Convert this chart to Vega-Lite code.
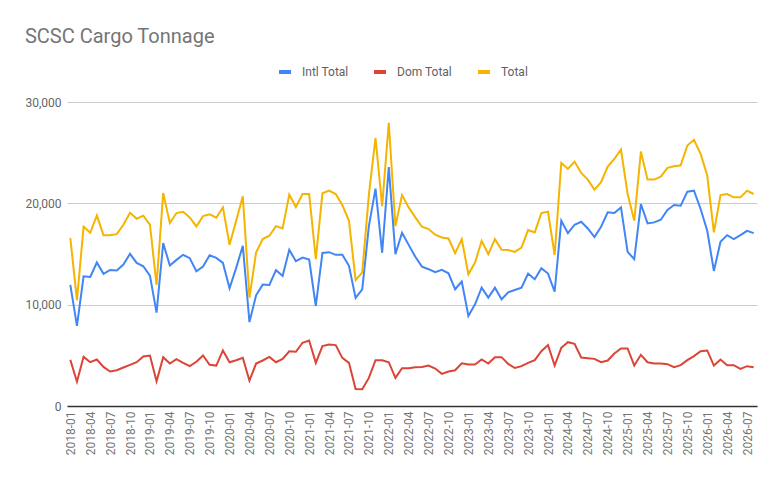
{
  "$schema": "https://vega.github.io/schema/vega-lite/v6.json",
  "width": 690,
  "height": 304,
  "autosize": {"type": "none"},
  "padding": {"left": 67, "top": 102, "right": 23, "bottom": 76},
  "title": {
    "text": "SCSC Cargo Tonnage",
    "anchor": "start",
    "frame": "bounds",
    "font": "Roboto",
    "fontSize": 20,
    "fontWeight": "normal",
    "color": "#757575",
    "offset": 17
  },
  "data": {
    "values": [
      {"month": "2018-01", "Intl Total": 11950, "Dom Total": 4550, "Total": 16570},
      {"month": "2018-02", "Intl Total": 7900, "Dom Total": 2400, "Total": 10450},
      {"month": "2018-03", "Intl Total": 12800, "Dom Total": 4850, "Total": 17700},
      {"month": "2018-04", "Intl Total": 12740, "Dom Total": 4320, "Total": 17090},
      {"month": "2018-05", "Intl Total": 14160, "Dom Total": 4590, "Total": 18800},
      {"month": "2018-06", "Intl Total": 13040, "Dom Total": 3860, "Total": 16860},
      {"month": "2018-07", "Intl Total": 13430, "Dom Total": 3400, "Total": 16860},
      {"month": "2018-08", "Intl Total": 13370, "Dom Total": 3530, "Total": 16960},
      {"month": "2018-09", "Intl Total": 13960, "Dom Total": 3800, "Total": 17890},
      {"month": "2018-10", "Intl Total": 15020, "Dom Total": 4060, "Total": 19070},
      {"month": "2018-11", "Intl Total": 14120, "Dom Total": 4320, "Total": 18480},
      {"month": "2018-12", "Intl Total": 13790, "Dom Total": 4880, "Total": 18780},
      {"month": "2019-01", "Intl Total": 12870, "Dom Total": 4980, "Total": 17890},
      {"month": "2019-02", "Intl Total": 9210, "Dom Total": 2440, "Total": 11950},
      {"month": "2019-03", "Intl Total": 16070, "Dom Total": 4820, "Total": 21020},
      {"month": "2019-04", "Intl Total": 13860, "Dom Total": 4190, "Total": 18050},
      {"month": "2019-05", "Intl Total": 14420, "Dom Total": 4620, "Total": 19040},
      {"month": "2019-06", "Intl Total": 14920, "Dom Total": 4260, "Total": 19170},
      {"month": "2019-07", "Intl Total": 14590, "Dom Total": 3930, "Total": 18610},
      {"month": "2019-08", "Intl Total": 13300, "Dom Total": 4360, "Total": 17720},
      {"month": "2019-09", "Intl Total": 13760, "Dom Total": 4980, "Total": 18740},
      {"month": "2019-10", "Intl Total": 14880, "Dom Total": 4060, "Total": 18910},
      {"month": "2019-11", "Intl Total": 14620, "Dom Total": 3990, "Total": 18580},
      {"month": "2019-12", "Intl Total": 14120, "Dom Total": 5480, "Total": 19600},
      {"month": "2020-01", "Intl Total": 11620, "Dom Total": 4320, "Total": 15910},
      {"month": "2020-02", "Intl Total": 13630, "Dom Total": 4520, "Total": 18280},
      {"month": "2020-03", "Intl Total": 15810, "Dom Total": 4750, "Total": 20690},
      {"month": "2020-04", "Intl Total": 8280, "Dom Total": 2500, "Total": 10700},
      {"month": "2020-05", "Intl Total": 10920, "Dom Total": 4190, "Total": 15150},
      {"month": "2020-06", "Intl Total": 11980, "Dom Total": 4490, "Total": 16470},
      {"month": "2020-07", "Intl Total": 11950, "Dom Total": 4850, "Total": 16800},
      {"month": "2020-08", "Intl Total": 13400, "Dom Total": 4320, "Total": 17750},
      {"month": "2020-09", "Intl Total": 12840, "Dom Total": 4650, "Total": 17520},
      {"month": "2020-10", "Intl Total": 15410, "Dom Total": 5400, "Total": 20860},
      {"month": "2020-11", "Intl Total": 14290, "Dom Total": 5350, "Total": 19640},
      {"month": "2020-12", "Intl Total": 14650, "Dom Total": 6240, "Total": 20920},
      {"month": "2021-01", "Intl Total": 14450, "Dom Total": 6470, "Total": 20920},
      {"month": "2021-02", "Intl Total": 9870, "Dom Total": 4260, "Total": 14490},
      {"month": "2021-03", "Intl Total": 15110, "Dom Total": 5910, "Total": 20990},
      {"month": "2021-04", "Intl Total": 15180, "Dom Total": 6070, "Total": 21250},
      {"month": "2021-05", "Intl Total": 14920, "Dom Total": 6010, "Total": 20920},
      {"month": "2021-06", "Intl Total": 14920, "Dom Total": 4750, "Total": 19830},
      {"month": "2021-07", "Intl Total": 13830, "Dom Total": 4260, "Total": 18280},
      {"month": "2021-08", "Intl Total": 10660, "Dom Total": 1680, "Total": 12420},
      {"month": "2021-09", "Intl Total": 11500, "Dom Total": 1650, "Total": 13180},
      {"month": "2021-10", "Intl Total": 17750, "Dom Total": 2770, "Total": 20850},
      {"month": "2021-11", "Intl Total": 21450, "Dom Total": 4520, "Total": 26450},
      {"month": "2021-12", "Intl Total": 15120, "Dom Total": 4520, "Total": 19720},
      {"month": "2022-01", "Intl Total": 23580, "Dom Total": 4320, "Total": 27950},
      {"month": "2022-02", "Intl Total": 14990, "Dom Total": 2770, "Total": 17750},
      {"month": "2022-03", "Intl Total": 17100, "Dom Total": 3730, "Total": 20810},
      {"month": "2022-04", "Intl Total": 15900, "Dom Total": 3730, "Total": 19600},
      {"month": "2022-05", "Intl Total": 14720, "Dom Total": 3830, "Total": 18610},
      {"month": "2022-06", "Intl Total": 13760, "Dom Total": 3860, "Total": 17690},
      {"month": "2022-07", "Intl Total": 13500, "Dom Total": 3990, "Total": 17460},
      {"month": "2022-08", "Intl Total": 13200, "Dom Total": 3700, "Total": 16900},
      {"month": "2022-09", "Intl Total": 13430, "Dom Total": 3170, "Total": 16630},
      {"month": "2022-10", "Intl Total": 13100, "Dom Total": 3400, "Total": 16530},
      {"month": "2022-11", "Intl Total": 11520, "Dom Total": 3530, "Total": 15080},
      {"month": "2022-12", "Intl Total": 12280, "Dom Total": 4220, "Total": 16470},
      {"month": "2023-01", "Intl Total": 8880, "Dom Total": 4090, "Total": 13000},
      {"month": "2023-02", "Intl Total": 10030, "Dom Total": 4090, "Total": 14160},
      {"month": "2023-03", "Intl Total": 11680, "Dom Total": 4590, "Total": 16300},
      {"month": "2023-04", "Intl Total": 10690, "Dom Total": 4190, "Total": 14980},
      {"month": "2023-05", "Intl Total": 11680, "Dom Total": 4820, "Total": 16470},
      {"month": "2023-06", "Intl Total": 10530, "Dom Total": 4820, "Total": 15410},
      {"month": "2023-07", "Intl Total": 11220, "Dom Total": 4160, "Total": 15400},
      {"month": "2023-08", "Intl Total": 11450, "Dom Total": 3750, "Total": 15210},
      {"month": "2023-09", "Intl Total": 11680, "Dom Total": 3930, "Total": 15640},
      {"month": "2023-10", "Intl Total": 13070, "Dom Total": 4260, "Total": 17360},
      {"month": "2023-11", "Intl Total": 12510, "Dom Total": 4520, "Total": 17130},
      {"month": "2023-12", "Intl Total": 13600, "Dom Total": 5410, "Total": 19040},
      {"month": "2024-01", "Intl Total": 13070, "Dom Total": 6010, "Total": 19170},
      {"month": "2024-02", "Intl Total": 11290, "Dom Total": 3990, "Total": 14900},
      {"month": "2024-03", "Intl Total": 18280, "Dom Total": 5740, "Total": 23990},
      {"month": "2024-04", "Intl Total": 17060, "Dom Total": 6300, "Total": 23400},
      {"month": "2024-05", "Intl Total": 17890, "Dom Total": 6140, "Total": 24120},
      {"month": "2024-06", "Intl Total": 18180, "Dom Total": 4790, "Total": 23000},
      {"month": "2024-07", "Intl Total": 17520, "Dom Total": 4720, "Total": 22340},
      {"month": "2024-08", "Intl Total": 16670, "Dom Total": 4650, "Total": 21350},
      {"month": "2024-09", "Intl Total": 17690, "Dom Total": 4320, "Total": 22080},
      {"month": "2024-10", "Intl Total": 19110, "Dom Total": 4490, "Total": 23630},
      {"month": "2024-11", "Intl Total": 19040, "Dom Total": 5180, "Total": 24390},
      {"month": "2024-12", "Intl Total": 19600, "Dom Total": 5680, "Total": 25310},
      {"month": "2025-01", "Intl Total": 15210, "Dom Total": 5680, "Total": 20920},
      {"month": "2025-02", "Intl Total": 14490, "Dom Total": 3990, "Total": 18280},
      {"month": "2025-03", "Intl Total": 19930, "Dom Total": 5050, "Total": 25110},
      {"month": "2025-04", "Intl Total": 18020, "Dom Total": 4320, "Total": 22340},
      {"month": "2025-05", "Intl Total": 18120, "Dom Total": 4190, "Total": 22340},
      {"month": "2025-06", "Intl Total": 18380, "Dom Total": 4190, "Total": 22640},
      {"month": "2025-07", "Intl Total": 19340, "Dom Total": 4130, "Total": 23500},
      {"month": "2025-08", "Intl Total": 19830, "Dom Total": 3830, "Total": 23660},
      {"month": "2025-09", "Intl Total": 19770, "Dom Total": 4030, "Total": 23760},
      {"month": "2025-10", "Intl Total": 21150, "Dom Total": 4520, "Total": 25710},
      {"month": "2025-11", "Intl Total": 21250, "Dom Total": 4920, "Total": 26270},
      {"month": "2025-12", "Intl Total": 19440, "Dom Total": 5410, "Total": 24880},
      {"month": "2026-01", "Intl Total": 17290, "Dom Total": 5480, "Total": 22740},
      {"month": "2026-02", "Intl Total": 13330, "Dom Total": 3990, "Total": 17130},
      {"month": "2026-03", "Intl Total": 16200, "Dom Total": 4590, "Total": 20820},
      {"month": "2026-04", "Intl Total": 16860, "Dom Total": 4030, "Total": 20920},
      {"month": "2026-05", "Intl Total": 16470, "Dom Total": 4030, "Total": 20590},
      {"month": "2026-06", "Intl Total": 16860, "Dom Total": 3660, "Total": 20590},
      {"month": "2026-07", "Intl Total": 17290, "Dom Total": 3930, "Total": 21250},
      {"month": "2026-08", "Intl Total": 17060, "Dom Total": 3830, "Total": 20920}
    ]
  },
  "transform": [
    {"fold": ["Intl Total", "Dom Total", "Total"], "as": ["series", "tonnage"]}
  ],
  "mark": {"type": "line", "strokeWidth": 2},
  "encoding": {
    "x": {
      "field": "month",
      "type": "ordinal",
      "sort": null,
      "scale": {"type": "point", "padding": 0.5},
      "axis": {
        "title": null,
        "labelAngle": -90,
        "labelExpr": "(toNumber(substring(datum.value, 5, 7)) - 1) % 3 == 0 ? datum.value : ''",
        "ticks": false,
        "grid": false,
        "domainColor": "#333333",
        "domainWidth": 1.5,
        "labelPadding": 5,
        "labelColor": "#757575"
      }
    },
    "y": {
      "field": "tonnage",
      "type": "quantitative",
      "scale": {"domain": [0, 30000], "nice": false},
      "axis": {
        "title": null,
        "values": [0, 10000, 20000, 30000],
        "format": ",d",
        "domain": false,
        "ticks": false,
        "labelPadding": 6,
        "gridColor": "#cccccc"
      }
    },
    "color": {
      "field": "series",
      "type": "nominal",
      "sort": ["Intl Total", "Dom Total", "Total"],
      "scale": {
        "domain": ["Intl Total", "Dom Total", "Total"],
        "range": ["#4285F4", "#DB4437", "#F4B400"]
      },
      "legend": {
        "title": null,
        "orient": "none",
        "direction": "horizontal",
        "legendX": 210,
        "legendY": -38,
        "symbolType": "stroke",
        "symbolStrokeWidth": 4,
        "symbolSize": 144,
        "labelOffset": 9,
        "columnPadding": 17,
        "labelFontSize": 12,
        "labelColor": "#5f5f5f"
      }
    }
  },
  "config": {
    "font": "Roboto",
    "view": {"stroke": null},
    "axis": {"labelFont": "Roboto", "labelFontSize": 12, "labelColor": "#666666"},
    "legend": {"labelFont": "Roboto"}
  }
}
